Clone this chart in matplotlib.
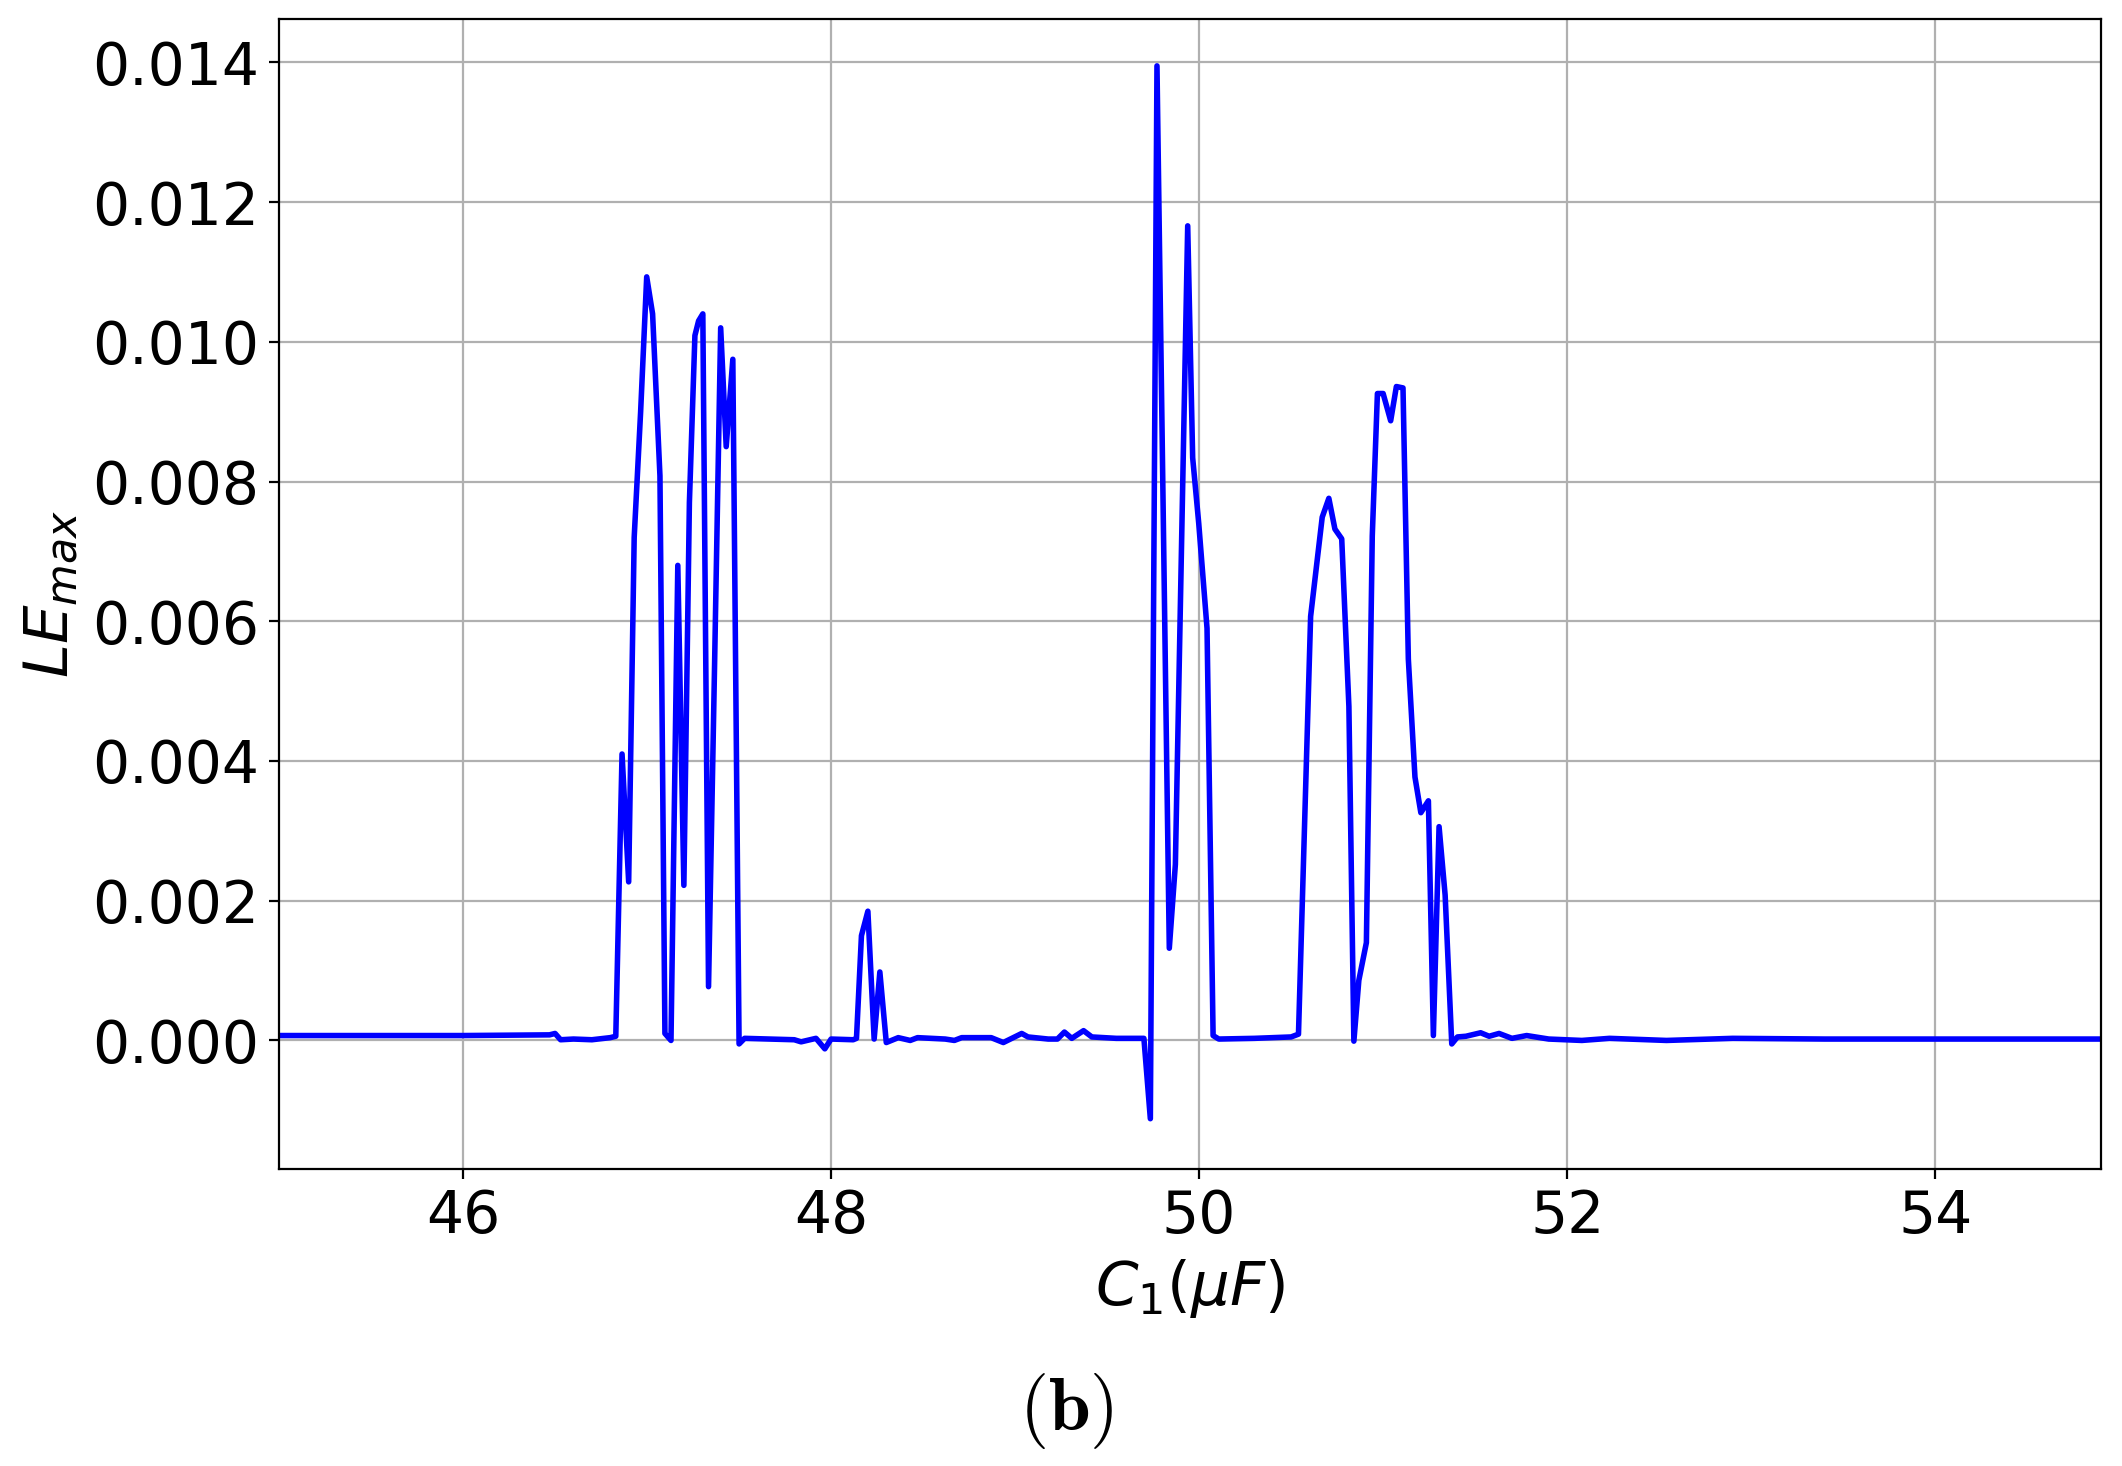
## largest Lyapunov exponent vs C1, panel (b)

import matplotlib
matplotlib.use("Agg")
import matplotlib.pyplot as plt

# sweep of C1 (uF) and LE_max (vertices of the curve)
c1_values = [
    45.00, 46.00, 46.47, 46.50, 46.53, 46.60, 46.70, 46.80, 46.83,
    46.864, 46.90, 46.93, 46.965, 46.998, 47.03, 47.07, 47.097, 47.13,
    47.167, 47.20, 47.23, 47.26, 47.28, 47.303, 47.334, 47.367, 47.40,
    47.43, 47.466, 47.50, 47.53, 47.80, 47.837, 47.918, 47.966, 48.00,
    48.12, 48.138, 48.165, 48.20, 48.234, 48.265, 48.30, 48.365, 48.43,
    48.47, 48.62, 48.67, 48.71, 48.87, 48.936, 49.036, 49.07, 49.18,
    49.23, 49.268, 49.308, 49.372, 49.417, 49.55, 49.70, 49.735, 49.771,
    49.838, 49.871, 49.938, 49.965, 49.998, 50.043, 50.076, 50.107,
    50.30, 50.50, 50.54, 50.606, 50.669, 50.705, 50.738, 50.775, 50.814,
    50.841, 50.868, 50.909, 50.941, 50.969, 51.00, 51.041, 51.072,
    51.108, 51.137, 51.173, 51.205, 51.246, 51.273, 51.304, 51.337,
    51.373, 51.404, 51.45, 51.53, 51.576, 51.63, 51.70, 51.78, 51.90,
    52.08, 52.23, 52.54, 52.90, 53.40, 54.00, 54.50, 54.90,
]
le_max = [
    0.00007, 0.00007, 0.00008, 0.00010, 0.00001, 0.00002, 0.00001, 0.00004, 0.00006,
    0.00410, 0.00227, 0.00720, 0.00900, 0.01093, 0.01040, 0.00808, 0.00010, 0.00000,
    0.00680, 0.00222, 0.00770, 0.01009, 0.01030, 0.01040, 0.00077, 0.00540, 0.01020,
    0.00850, 0.00975, -0.00005, 0.00003, 0.00001, -0.00002, 0.00003, -0.00012, 0.00002,
    0.00001, 0.00003, 0.00150, 0.00185, 0.00002, 0.00098, -0.00003, 0.00004, 0.00000,
    0.00004, 0.00002, 0.00000, 0.00004, 0.00004, -0.00003, 0.00010, 0.00005, 0.00002,
    0.00002, 0.00012, 0.00003, 0.00014, 0.00005, 0.00003, 0.00003, -0.00112, 0.01395,
    0.00132, 0.00252, 0.01166, 0.00834, 0.00740, 0.00590, 0.00007, 0.00002,
    0.00003, 0.00005, 0.00009, 0.00607, 0.00749, 0.00776, 0.00732, 0.00718, 0.00478,
    -0.00001, 0.00086, 0.00140, 0.00722, 0.00926, 0.00926, 0.00887, 0.00936,
    0.00934, 0.00546, 0.00377, 0.00326, 0.00343, 0.00007, 0.00306, 0.00208,
    -0.00005, 0.00005, 0.00006, 0.00011, 0.00006, 0.00010, 0.00003, 0.00007, 0.00002,
    0.00000, 0.00003, 0.00000, 0.00003, 0.00002, 0.00002, 0.00002, 0.00002,
]

x_ticks = [46, 48, 50, 52, 54]

fig = plt.figure(figsize=(10.61, 7.33), dpi=200)
ax = fig.add_axes([0.1315, 0.2026, 0.8585, 0.7844])

ax.plot(c1_values, le_max, color="blue", linewidth=2.0)
ax.set_xlim(45, 54.9)
ax.set_ylim(-0.00184, 0.01462)
ax.set_xticks(x_ticks)
ax.grid(True)

ax.tick_params(labelsize=21)
ax.set_xlabel(r"$C_1(\mu F)$", fontsize=22)
ax.set_ylabel(r"$LE_{max}$", fontsize=22)

fig.text(0.5025, 0.0375, r"$\mathbf{(b)}$", fontsize=27,
         math_fontfamily="cm", ha="center", va="center")

fig.savefig("out.png", dpi=200)
